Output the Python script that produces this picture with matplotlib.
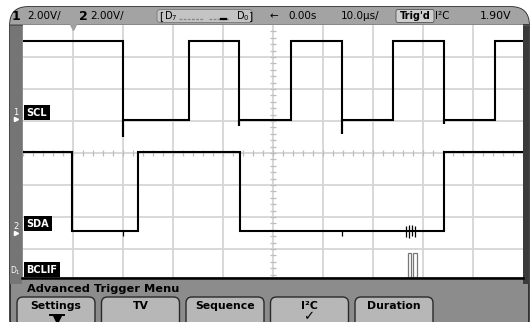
import numpy as np
import matplotlib.pyplot as plt
from matplotlib.patches import FancyBboxPatch, Rectangle

# scope settings read from the header
time_per_div_us = 10.0
volts_per_div = 2.0

# SCL (channel 1): edge times (us), level before first edge then after each edge (V)
scl_edges_us = [-30.0, -16.8, -6.8, 3.6, 13.8, 24.0, 34.2, 44.4]
scl_levels_v = [4.95, 0.0, 4.95, 0.0, 4.95, 0.0, 4.95, 0.0, 4.95]
scl_undershoot_v = [-1.05, None, -0.4, None, -0.9, None, -0.25, None]
scl_ground_div = 1.03

# SDA (channel 2)
sda_edges_us = [-40.2, -27.0, -6.6, 34.2]
sda_levels_v = [4.95, 0.0, 4.95, 0.0, 4.95]
sda_ground_div = -2.44
sda_glitch_us = [-30.0, 13.8, 26.6, 27.2, 27.8, 28.4]
sda_glitch_lo_v = [-0.3, -0.3, -0.35, -0.45, -0.3, -0.35]
sda_glitch_hi_v = [0.0, 0.0, 0.3, 0.35, 0.4, 0.3]

# digital BCLIF pulses (us)
bclif_pulse_us = [27.3, 28.4]
trig_pos_us = -40.0

menu_buttons = ["Settings", "TV", "Sequence", "I²C", "Duration"]

GRID = "#d6d6d6"
BEZEL = "#8c8c8c"


def trace(edges, levels, spikes, ground):
    t = [-5 * time_per_div_us]
    v = [levels[0]]
    for i, e in enumerate(edges):
        t.append(e); v.append(levels[i])
        if spikes is not None and spikes[i] is not None:
            t.append(e); v.append(spikes[i])
        t.append(e); v.append(levels[i + 1])
    t.append(5 * time_per_div_us); v.append(levels[-1])
    return np.array(t), ground + np.array(v) / volts_per_div


fig = plt.figure(figsize=(5.31, 3.22), dpi=100)
fig.patch.set_facecolor("white")

# pixel space for the instrument frame
bg = fig.add_axes([0, 0, 1, 1])
bg.set_xlim(0, 531)
bg.set_ylim(322, 0)
bg.axis("off")

outer = FancyBboxPatch((10, 7), 519, 330, boxstyle="round,pad=0,rounding_size=18",
                       facecolor=BEZEL, edgecolor="#222222", lw=1.2)
bg.add_patch(outer)
for x0, y0, w, h, c in [(0, 0, 531, 24, "#a3a3a3"), (0, 24, 22, 260, "#757575"),
                        (523, 24, 10, 260, "#3a3a3a")]:
    r = Rectangle((x0, y0), w, h, facecolor=c, edgecolor="none")
    bg.add_patch(r)
    r.set_clip_path(outer)
bg.plot([10, 529], [24.5, 24.5], color="#555555", lw=0.8)

# header
hdr_y = 16
bg.text(12, hdr_y, "1", fontsize=9, fontweight="bold", va="center")
bg.text(27, hdr_y, "2.00V/", fontsize=7.5, va="center")
bg.text(79, hdr_y, "2", fontsize=9, fontweight="bold", va="center")
bg.text(90, hdr_y, "2.00V/", fontsize=7.5, va="center")
bg.add_patch(FancyBboxPatch((157, 9.5), 95, 13, boxstyle="round,pad=0,rounding_size=3",
                            facecolor="#c4c4c4", edgecolor="#777777", lw=0.6))
bg.text(159, hdr_y, "[", fontsize=7.5, va="center")
bg.text(164, hdr_y, r"$\mathregular{D_7}$", fontsize=7, va="center")
bg.plot([179, 203], [18.5, 18.5], color="#888888", lw=1, ls=(0, (2, 1)))
bg.plot([209, 230], [18.5, 18.5], color="#888888", lw=1, ls=(0, (2, 1)))
bg.plot([221, 226], [18.5, 18.5], color="black", lw=1.6)
bg.text(236, hdr_y, r"$\mathregular{D_0}$", fontsize=7, va="center")
bg.text(249, hdr_y, "]", fontsize=7.5, va="center")
bg.text(269, hdr_y, "←", fontsize=7.5, va="center")
bg.text(288, hdr_y, "0.00s", fontsize=7.5, va="center")
bg.text(341, hdr_y, "10.0µs/", fontsize=7.5, va="center")
bg.add_patch(FancyBboxPatch((396, 9.5), 38, 13, boxstyle="round,pad=0,rounding_size=2",
                            facecolor="#cfcfcf", edgecolor="#555555", lw=0.6))
bg.text(415, hdr_y, "Trig'd", fontsize=7, fontweight="bold", va="center", ha="center")
bg.text(435, hdr_y, "I²C", fontsize=7.5, va="center")
bg.text(480, hdr_y, "1.90V", fontsize=7.8, va="center")

# menu area
bg.plot([22, 523], [277.5, 277.5], color="black", lw=1.8)
bg.text(27, 289, "Advanced Trigger Menu", fontsize=8.2, fontweight="bold", va="center")
for i, lab in enumerate(menu_buttons):
    x0 = 17 + i * 84.5
    bg.add_patch(FancyBboxPatch((x0, 297), 78, 40, boxstyle="round,pad=0,rounding_size=6",
                                facecolor="#b7b7b7", edgecolor="#2a2a2a", lw=1.0))
    bg.text(x0 + 39, 306, lab, fontsize=7.8, fontweight="bold", va="center", ha="center")
bg.plot([50, 64], [315, 315], color="black", lw=1.4)
bg.plot([57], [318.5], marker="v", color="black", ms=6)
bg.text(309, 316.5, "✓", fontsize=9.5, fontweight="bold", va="center", ha="center")

# channel markers on the left bezel
bg.text(16, 112, "1", fontsize=6, color="white", va="center", ha="center")
bg.plot([16], [119], marker=">", color="white", ms=3)
bg.text(16, 226, "2", fontsize=6, color="white", va="center", ha="center")
bg.plot([16], [233], marker=">", color="white", ms=3)
bg.text(15, 271, r"$\mathregular{D_1}$", fontsize=5.5, color="white", va="center", ha="center")

# scope graticule
ax = fig.add_axes([23 / 531, 1 - 277 / 322, 500 / 531, 252 / 322])
ax.set_facecolor("white")
ax.set_xlim(-5 * time_per_div_us, 5 * time_per_div_us)
ax.set_ylim(-3.875, 4)
for s in ax.spines.values():
    s.set_visible(False)
ax.set_xticks([])
ax.set_yticks([])
for k in range(-4, 5):
    ax.axvline(k * time_per_div_us, color=GRID, lw=1.3, zorder=0)
for k in range(-3, 4):
    ax.axhline(k, color=GRID, lw=1.3, zorder=0)
mt = np.arange(-5 * time_per_div_us, 5 * time_per_div_us + 0.1, time_per_div_us / 5)
ax.vlines(mt, -0.1, 0.1, color="#bdbdbd", lw=0.9, zorder=0)
my = np.arange(-3.8, 4.0, 0.2)
ax.hlines(my, -0.6, 0.6, color="#bdbdbd", lw=0.9, zorder=0)

# waveforms
t, y = trace(scl_edges_us, scl_levels_v, scl_undershoot_v, scl_ground_div)
ax.plot(t, y, color="black", lw=1.5, solid_joinstyle="miter", zorder=3)
t, y = trace(sda_edges_us, sda_levels_v, None, sda_ground_div)
ax.plot(t, y, color="black", lw=1.5, solid_joinstyle="miter", zorder=3)
ax.vlines(sda_glitch_us,
          sda_ground_div + np.array(sda_glitch_lo_v) / volts_per_div,
          sda_ground_div + np.array(sda_glitch_hi_v) / volts_per_div,
          color="black", lw=0.9, zorder=3)
ax.bar(bclif_pulse_us, 0.75, width=0.7, bottom=-3.875, facecolor="white",
       edgecolor="#777777", lw=0.9, zorder=3)
ax.plot([trig_pos_us], [3.93], marker="v", color="#a0a0a0", ms=5, clip_on=False, zorder=4)

# channel labels
lab_kw = dict(fontsize=7, fontweight="bold", color="white", va="bottom", ha="left",
              bbox=dict(boxstyle="square,pad=0.25", facecolor="black", edgecolor="none"),
              zorder=5)
ax.text(-49.3, scl_ground_div + 0.07, "SCL", **lab_kw)
ax.text(-49.3, sda_ground_div + 0.07, "SDA", **lab_kw)
ax.text(-49.3, -3.8, "BCLIF", **lab_kw)

fig.savefig("out.png", dpi=100)
